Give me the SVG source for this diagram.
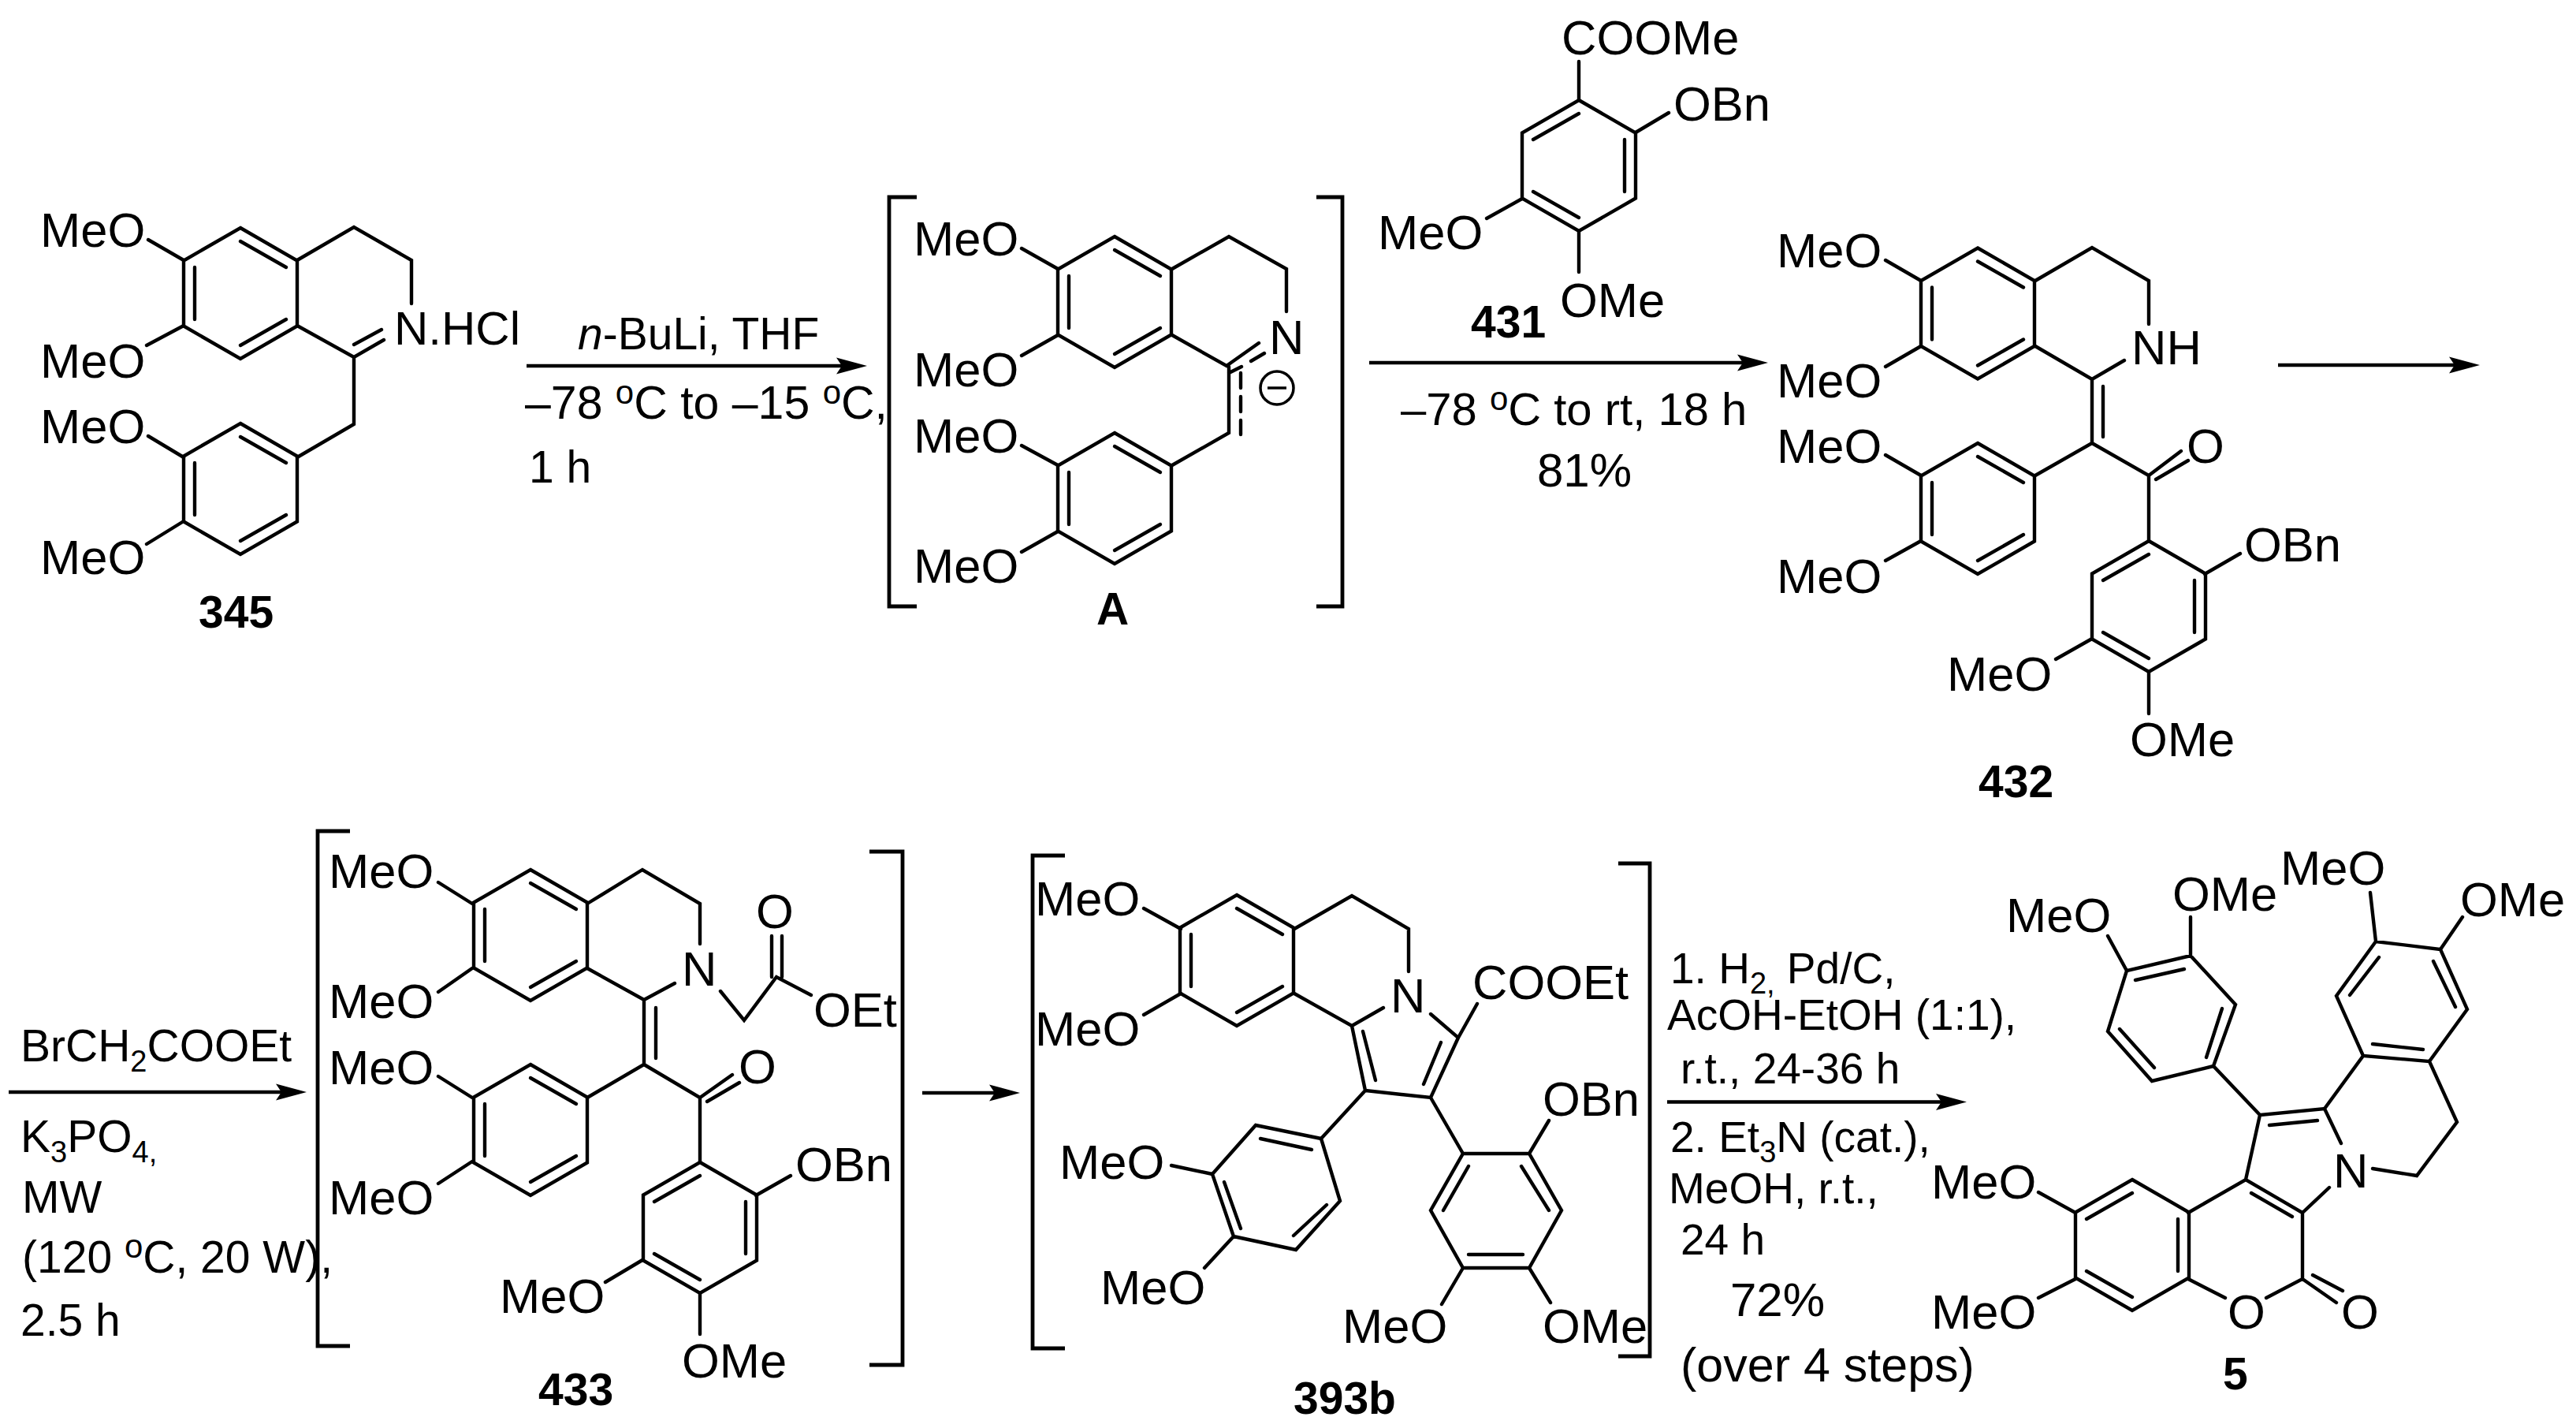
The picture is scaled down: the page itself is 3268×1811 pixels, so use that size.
<svg xmlns="http://www.w3.org/2000/svg" width="3268" height="1811" viewBox="0 0 3268 1811">
<style>
text{font-family:"Liberation Sans",Arial,sans-serif;font-size:61.5px;fill:#000}
.r{font-size:57px}
.q{font-size:59px}
.p{font-size:58px}
.m{font-size:55px}
.y{font-size:60px}
.w{font-size:61px}
.b{font-size:57px;font-weight:bold}
.s{font-size:38px}
.u{font-size:42px}
.bond,.hex path{fill:none;stroke:#000;stroke-width:4.400;stroke-linecap:round;stroke-linejoin:miter}
.br{fill:none;stroke:#000;stroke-width:4.800}
.arr{fill:none;stroke:#000;stroke-width:4.400;marker-end:url(#ah)}
</style>
<defs>
<marker id="ah" markerUnits="userSpaceOnUse" markerWidth="40" markerHeight="24" refX="19" refY="12" orient="auto"><path d="M0 1.500L39 12L0 22.500L7 12Z" fill="#000"/></marker>
<path id="hexA" class="bond" d="M0 -83L72 -41.500V41.500L0 83L-72 41.500V-41.500ZM0 -66L58 -33M-58 -33V33M0 66L58 33"/>
<path id="hexB" class="bond" d="M0 -83L72 -41.500V41.500L0 83L-72 41.500V-41.500ZM0 -66L-58 -33M58 -33V33M0 66L-58 33"/>
</defs>
<rect width="3268" height="1811" fill="#fff"/>

<g id="connectors">
<path class="arr" d="M668 464H1080"/>
<path class="arr" d="M1737 460H2223"/>
<path class="arr" d="M2890 463H3126"/>
<path class="arr" d="M11 1385H369"/>
<path class="arr" d="M1170 1386H1274"/>
<path class="arr" d="M2115 1397.500H2475"/>
</g>

<g id="cond1">
<text class="r" x="733" y="443"><tspan font-style="italic">n</tspan>-BuLi, THF</text>
<text class="q" x="666" y="531">–78 <tspan class="u" dy="-19">o</tspan><tspan dy="19">C to –15 </tspan><tspan class="u" dy="-19">o</tspan><tspan dy="19">C,</tspan></text>
<text class="r" x="671" y="612">1 h</text>
</g>
<g id="cond2">
<text class="p" x="1777" y="539">–78 <tspan class="u" dy="-19">o</tspan><tspan dy="19">C to rt, 18 h</tspan></text>
<text class="y" x="1950" y="617">81%</text>
</g>
<g id="cond3">
<text class="r" x="26" y="1346">BrCH<tspan class="s" dy="13">2</tspan><tspan dy="-13">COOEt</tspan></text>
<text class="r" x="26" y="1461">K<tspan class="s" dy="13">3</tspan><tspan dy="-13">PO</tspan><tspan class="s" dy="13">4,</tspan></text>
<text class="r" x="28" y="1538">MW</text>
<text class="r" x="28" y="1614">(120 <tspan class="u" dy="-19">o</tspan><tspan dy="19">C, 20 W),</tspan></text>
<text class="r" x="26" y="1694">2.5 h</text>
</g>
<g id="cond4">
<text class="m" x="2119" y="1247">1. H<tspan class="s" dy="13">2,</tspan><tspan dy="-13"> Pd/C,</tspan></text>
<text class="m" x="2115" y="1306">AcOH-EtOH (1:1),</text>
<text class="m" x="2132" y="1374">r.t., 24-36 h</text>
<text class="m" x="2119" y="1461">2. Et<tspan class="s" dy="13">3</tspan><tspan dy="-13">N (cat.),</tspan></text>
<text class="m" x="2117" y="1526">MeOH, r.t.,</text>
<text class="m" x="2132" y="1591">24 h</text>
<text class="y" x="2195" y="1669">72%</text>
<text class="w" x="2132" y="1752">(over 4 steps)</text>
</g>

<g id="mol-345">
<use href="#hexA" x="305" y="372"/><use href="#hexA" x="305" y="620"/>
<path class="bond" d="M233 330L188 304M233 413L186 438M233 580L188 553M233 661L186 690M377 330L449 288L522 330V385M377 413L449 453L487 431M449 437L484 418M449 453V538L377 580"/>
<text x="51" y="313">MeO</text><text x="51" y="479">MeO</text><text x="51" y="562">MeO</text><text x="51" y="728">MeO</text>
<text class="y" x="500" y="437">N.HCl</text>
<text class="b" x="252" y="796">345</text>
</g>

<g id="mol-A">
<path class="br" d="M1163 250H1128V769H1163M1670 250H1703V769H1670"/>
<use href="#hexA" x="1414" y="383"/><use href="#hexA" x="1414" y="632"/>
<path class="bond" d="M1342 341L1296 315M1342 425L1296 451M1342 590L1296 565M1342 674L1296 700M1487 341L1559 300L1632 341V395M1487 425L1556 464L1597 435M1559 465V549L1487 590M1559 473L1575 465M1587 458L1604 448M1574 473V492M1574 503V522M1574 533V551"/>
<circle cx="1620" cy="492" r="21" fill="none" stroke="#000" stroke-width="3.500"/>
<path d="M1608 492H1632" stroke="#000" stroke-width="3.500"/>
<text x="1159" y="324">MeO</text><text x="1159" y="490">MeO</text><text x="1159" y="574">MeO</text><text x="1159" y="739">MeO</text>
<text x="1610" y="449">N</text>
<text class="b" x="1391" y="792">A</text>
</g>

<g id="mol-431">
<use href="#hexB" x="2003" y="210"/>
<path class="bond" d="M2003 127V78M2075 168L2117 143M1931 252L1886 277M2003 293V345"/>
<text x="1981" y="69">COOMe</text><text x="2123" y="153">OBn</text><text x="1748" y="316">MeO</text><text x="1979" y="402">OMe</text>
<text class="b" x="1866" y="428">431</text>
</g>

<g id="mol-432">
<use href="#hexA" x="2509" y="397.500"/><use href="#hexA" x="2509" y="645"/><use href="#hexB" x="2726" y="769"/>
<path class="bond" d="M2437 356L2392 330M2437 439L2392 465M2437 603L2392 577M2437 686L2392 711M2582 356L2654 314L2726 356V411M2582 439L2654 481L2695 457M2654 481V562L2582 603M2668 490V554M2654 562L2726 603V686M2726 603L2767 572M2735 608L2776 584M2797 728L2842 702M2654 810L2608 836M2726 852V905"/>
<text x="2254" y="339">MeO</text><text x="2254" y="504">MeO</text><text x="2254" y="587">MeO</text><text x="2254" y="752">MeO</text>
<text x="2704" y="462">NH</text><text x="2774" y="587">O</text><text x="2847" y="712">OBn</text><text x="2470" y="876">MeO</text><text x="2702" y="959">OMe</text>
<text class="b" x="2510" y="1011">432</text>
</g>

<g id="mol-433">
<path class="br" d="M444 1054H403V1707H444M1103 1080H1145V1731H1103"/>
<use href="#hexA" x="673" y="1186"/><use href="#hexA" x="673" y="1433"/><use href="#hexB" x="888" y="1557"/>
<path class="bond" d="M599 1146L556 1119M599 1228L556 1258M599 1392L556 1365M599 1473L556 1501M745 1146L815 1103L888 1146V1197M745 1228L817 1268L856 1247M817 1268V1350L745 1392M832 1278V1342M817 1350L888 1392V1474M888 1392L929 1363M897 1397L938 1373M959 1516L1003 1491M815 1598L768 1626M888 1640V1692M914 1257L944 1294L985 1239L1029 1262M979 1239V1187M992 1239V1187"/>
<text x="417" y="1126">MeO</text><text x="417" y="1291">MeO</text><text x="417" y="1375">MeO</text><text x="417" y="1540">MeO</text>
<text x="865" y="1250">N</text><text x="959" y="1177">O</text><text x="1032" y="1302">OEt</text><text x="937" y="1374">O</text><text x="1009" y="1498">OBn</text><text x="634" y="1665">MeO</text><text x="865" y="1747">OMe</text>
<text class="b" x="683" y="1782">433</text>
</g>

<g id="mol-393b">
<path class="br" d="M1351 1085H1310V1710H1351M2053 1095H2093V1720H2053"/>
<use href="#hexA" x="1569" y="1218"/>
<path class="bond" d="M1498 1178L1451 1152M1498 1260L1451 1287M1642 1178L1715 1136L1787 1178V1232M1642 1260L1715 1301L1755 1278M1715 1301L1732 1383L1815 1392L1850 1316L1815 1286M1729 1308L1745 1370M1828 1322L1806 1375M1850 1316L1874 1273M1732 1383L1676 1444M1676 1444L1593 1427L1538 1489L1565 1568L1644 1585L1700 1523ZM1599 1444L1664 1458M1553 1499L1574 1558M1641 1567L1683 1528M1538 1489L1486 1478M1565 1568L1528 1608M1815 1392L1856 1463M1856 1463H1940L1981 1535L1940 1608H1856L1815 1535ZM1930 1479L1965 1535M1863 1591H1932M1863 1479L1831 1535M1940 1463L1965 1421M1856 1608L1829 1654M1940 1608L1967 1652"/>
<text x="1313" y="1161">MeO</text><text x="1313" y="1326">MeO</text><text x="1344" y="1495">MeO</text><text x="1396" y="1654">MeO</text>
<text x="1764" y="1284">N</text><text x="1868" y="1267">COOEt</text><text x="1957" y="1415">OBn</text><text x="1703" y="1703">MeO</text><text x="1957" y="1703">OMe</text>
<text class="b" x="1641" y="1793">393b</text>
</g>

<g id="mol-5">
<use href="#hexB" x="2705" y="1579"/>
<path class="bond" d="M2633 1538L2586 1512M2633 1622L2586 1646M2776 1538L2849 1496L2921 1538V1622L2875 1646M2776 1622L2823 1646M2921 1622L2964 1652M2934 1617L2972 1637M2856 1513L2908 1543M2849 1496L2867 1414L2949 1406L2970 1450M2921 1538L2955 1506M2879 1427L2940 1421M3010 1482L3066 1491L3117 1423L3082 1346L2998 1339L2964 1263L3014 1194L3096 1204L3130 1280L3082 1346M2949 1406L2998 1339M3010 1324L3074 1331M2981 1262L3018 1214M3087 1219L3115 1277M3014 1194L3007 1132M3096 1204L3124 1163M2867 1414L2808 1352L2730 1371L2674 1308L2698 1231L2779 1212L2836 1274L2808 1352M2799 1341L2819 1279M2709 1243L2771 1229M2689 1305L2733 1354M2698 1231L2674 1187M2779 1212V1163"/>
<text x="2450" y="1520">MeO</text><text x="2450" y="1685">MeO</text><text x="2826" y="1685">O</text><text x="2970" y="1685">O</text><text x="2960" y="1506">N</text><text x="2893" y="1122">MeO</text><text x="3121" y="1162">OMe</text><text x="2545" y="1182">MeO</text><text x="2756" y="1155">OMe</text>
<text class="b" x="2820" y="1762">5</text>
</g>
</svg>
